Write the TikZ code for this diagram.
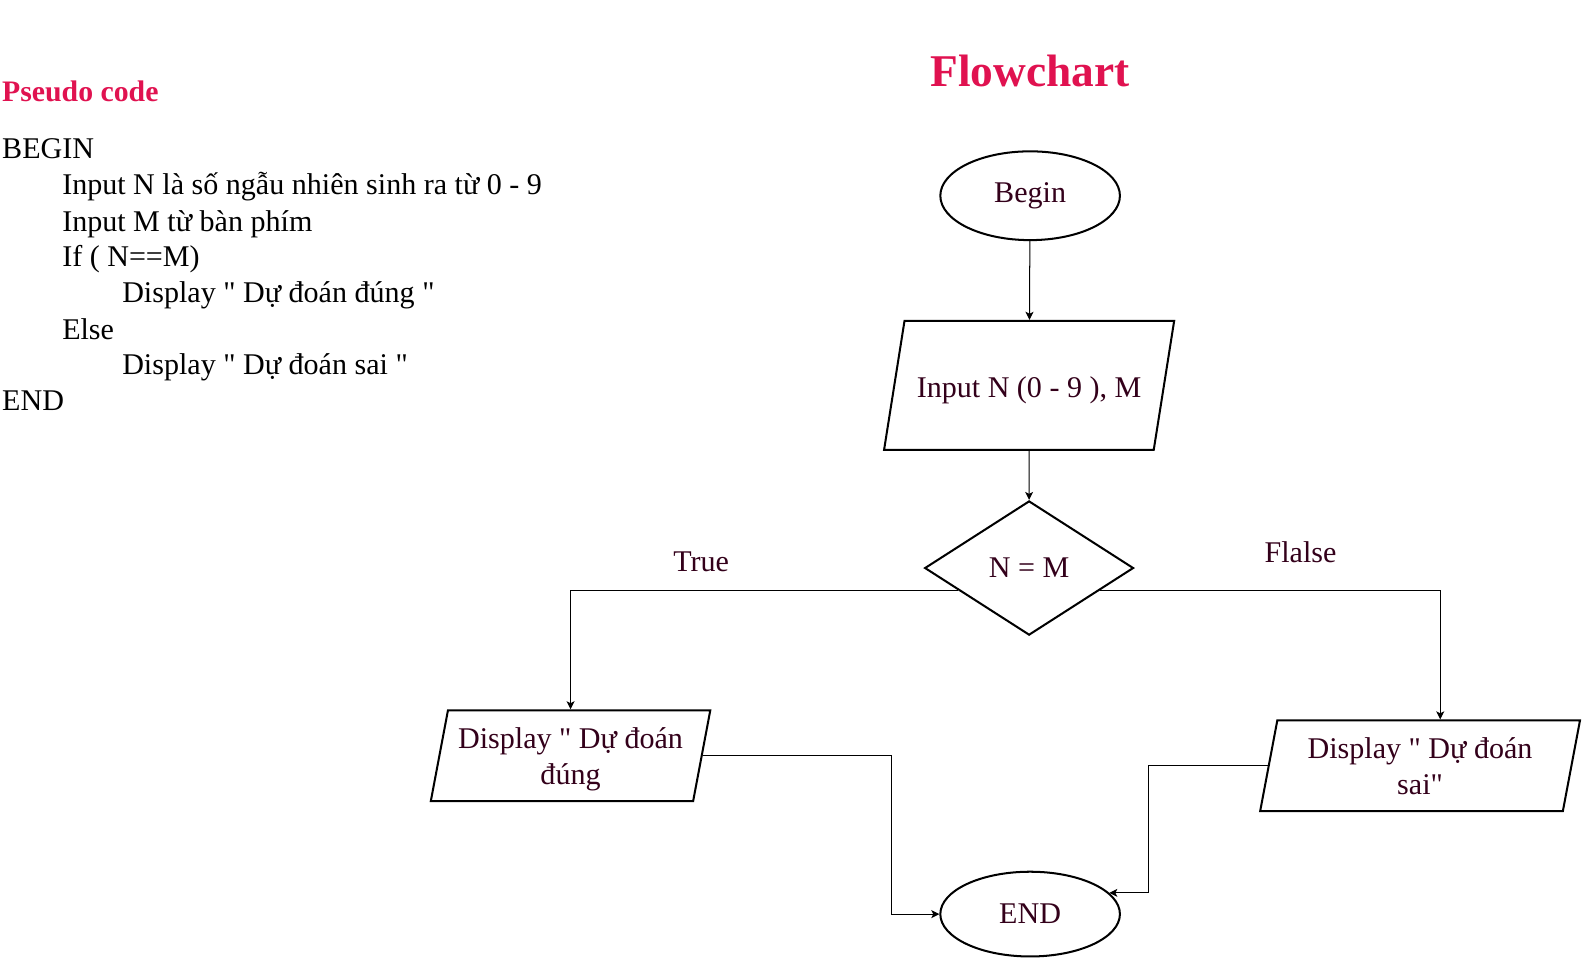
\documentclass[tikz,border=0pt]{standalone}
\usepackage{fontspec}
\setmainfont{Liberation Serif}[Ligatures=TeXOff]
\usetikzlibrary{shapes,arrows.meta,calc}
\definecolor{titlered}{HTML}{E01250}
\definecolor{ink}{HTML}{33001A}

\tikzset{
  body/.style={font=\fontsize{29.8}{35.7}\selectfont},
  term/.style={ellipse, draw, line width=2pt, minimum width=178pt, minimum height=88pt, text=ink, body},
  io/.style={trapezium, draw, line width=2pt, inner xsep=0pt, align=flush center, text=ink, body},
  decision/.style={diamond, draw, line width=2pt, minimum width=207pt, minimum height=133pt, text=ink, body},
  flow/.style={->, line width=1pt},
  code/.style={anchor=base west, inner sep=0pt, body}
}

\begin{document}
\begin{tikzpicture}[>={Stealth[length=8pt,width=8pt,inset=2pt]}, x=1pt, y=-1pt]
\useasboundingbox (0,0) rectangle (1568,949.5);
% pseudo code
\node[code, text=titlered, font=\fontsize{29.5}{35}\selectfont\bfseries] (pc) at (2,101) {Pseudo code};
\foreach \y/\ind/\txt in {157/0/BEGIN, 193/1/Input N là số ngẫu nhiên sinh ra từ 0 - 9,
    229/1/Input M từ bàn phím, 264/1/If ( N==M), 300/2/Display " Dự đoán đúng ",
    336/1/Else, 371/2/Display " Dự đoán sai ", 407/0/END}
    \node[code] (code\y) at ({2+\ind*59.5},\y) {\txt};
% flowchart
\node[anchor=base, text=titlered, font=\fontsize{45}{50}\selectfont\bfseries] (fc) at (1021,86) {Flowchart};
\node[term] (begin) at (1021,194) {Begin};
\node[io, trapezium left angle=81, trapezium right angle=99, text width=247pt, text height=25pt, text depth=2pt, inner ysep=50.5pt] (inp) at (1020,382) {Input N (0 - 9 ), M};
\node[decision] (dec) at (1020,563) {N = M};
\node[io, trapezium left angle=79.3, trapezium right angle=100.7, text width=243pt, text height=24pt, text depth=38.7pt, inner ysep=13.65pt] (dsp1) at (565.5,749) {Display " Dự đoán\\đúng};
\node[io, trapezium left angle=79.3, trapezium right angle=100.7, text width=283pt, text height=24pt, text depth=38.7pt, inner ysep=13.65pt] (dsp2) at (1407.5,759) {Display " Dự đoán\\sai"};
\node[term, minimum height=84pt] (end) at (1021,906) {END};
% labels
\node[body, text=ink] (yeslbl) at (695,557) {True};
\node[body, text=ink] (nolbl) at (1289,547) {Flalse};
% connectors
\coordinate (yes) at ($(dec.west)!0.33!(dec.south)$);
\coordinate (no) at ($(dec.east)!0.33!(dec.south)$);
\draw[flow] (begin) -- (inp);
\draw[flow] (inp) -- (dec);
\draw[flow] (yes) -| (dsp1);
\draw[flow] (no) -| ([xshift=20pt]dsp2.north);
\draw[flow] (dsp1.east) -- ++(187,0) |- (end.west);
\draw[flow] (dsp2.west) -- ++(-118,0) |- (end.15);
\end{tikzpicture}
\end{document}
